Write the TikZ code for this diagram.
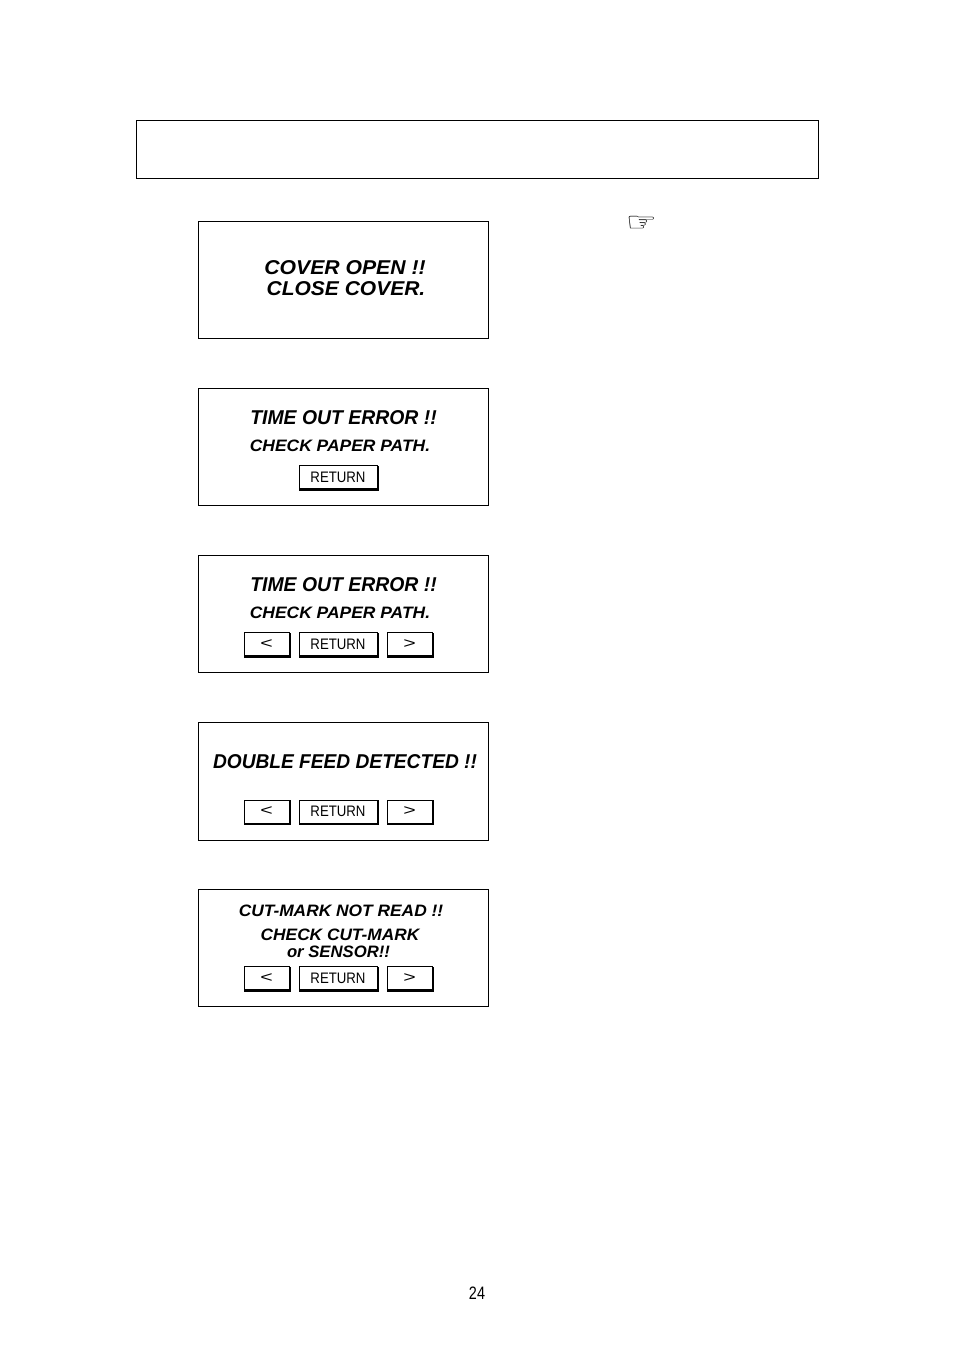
\documentclass[tikz,border=0pt]{standalone}
\usepackage{fontspec}
\setmainfont{Liberation Sans}
\newfontfamily\handfont{DejaVu Sans}
\newcommand{\sz}[1]{\fontsize{#1}{#1}\selectfont}
\tikzset{
  x=0.75pt,y=-0.75pt,
  panel/.style={draw=black,line width=0.8pt,minimum width=290.5*0.75pt,minimum height=117.5*0.75pt,inner sep=0pt},
  banner/.style={draw=black,line width=0.8pt,minimum width=682.5*0.75pt,minimum height=58*0.75pt,inner sep=0pt},
  msg/.style={font=\bfseries\itshape\sz{15},inner sep=0pt,anchor=center},
  submsg/.style={font=\bfseries\itshape\sz{12.4},inner sep=0pt,anchor=center},
  btn/.style={draw=black,line width=0.7pt,fill=white,minimum height=23*0.75pt,inner sep=0pt,font=\sz{11.4}},
  shade/.style={line width=0.9pt,line cap=rect},
}
\newcommand{\button}[5]{% name, centre x, centre y, width, label
  \node[btn,minimum width=#4*0.75pt] (#1) at (#2,#3) {#5};
  \draw[shade] ([xshift=1pt,yshift=-0.7pt]#1.south west) -- ([xshift=0.7pt,yshift=-0.7pt]#1.south east) -- ([xshift=0.7pt,yshift=-1pt]#1.north east);
}
\newcommand{\retlabel}{\scalebox{0.87}[1]{RETURN}}
\newcommand{\ltlabel}{\scalebox{1.4}[1]{<}}
\newcommand{\gtlabel}{\scalebox{1.4}[1]{>}}
\begin{document}
\begin{tikzpicture}
\useasboundingbox (0,0) rectangle (954,1350);
\fill[white] (0,0) rectangle (954,1350);

\node[banner] (top) at (477.5,149.5) {};
\node[inner sep=0pt,font=\handfont\sz{20}] (hand) at (641.5,224) {\scalebox{1.3}[1]{☞}};

% panel 1
\node[panel] (p1) at (343.5,280) {};
\node[msg] (t1a) at (345,268) {\scalebox{1.06}[1]{COVER OPEN !!}};
\node[msg] (t1b) at (346,289) {\scalebox{1.05}[1]{CLOSE COVER.}};

% panel 2
\node[panel] (p2) at (343.5,447) {};
\node[msg] (t2a) at (343.5,418) {\scalebox{0.97}[1]{TIME OUT ERROR !!}};
\node[submsg] (t2b) at (340,446) {\scalebox{1.055}[1]{CHECK PAPER PATH.}};
\button{b2}{338}{477}{78}{\retlabel}

% panel 3
\node[panel] (p3) at (343.5,614) {};
\node[msg] (t3a) at (343.5,585) {\scalebox{0.97}[1]{TIME OUT ERROR !!}};
\node[submsg] (t3b) at (340,613) {\scalebox{1.055}[1]{CHECK PAPER PATH.}};
\button{b3l}{266.5}{644}{45}{\ltlabel}
\button{b3m}{338}{644}{78}{\retlabel}
\button{b3r}{409.5}{644}{45}{\gtlabel}

% panel 4
\node[panel] (p4) at (343.5,781.5) {};
\node[msg] (t4a) at (345,762) {\scalebox{0.958}[1]{DOUBLE FEED DETECTED !!}};
\button{b4l}{266.5}{811.5}{45}{\ltlabel}
\button{b4m}{338}{811.5}{78}{\retlabel}
\button{b4r}{409.5}{811.5}{45}{\gtlabel}

% panel 5
\node[panel] (p5) at (343.5,948) {};
\node[submsg] (t5a) at (341,911) {\scalebox{1.05}[1]{CUT-MARK NOT READ !!}};
\node[submsg] (t5b) at (340,935) {\scalebox{1.046}[1]{CHECK CUT-MARK}};
\node[submsg] (t5c) at (338.5,952) {\scalebox{1.01}[1]{or SENSOR!!}};
\button{b5l}{266.5}{978}{45}{\ltlabel}
\button{b5m}{338}{978}{78}{\retlabel}
\button{b5r}{409.5}{978}{45}{\gtlabel}

\node[inner sep=0pt,font=\sz{13.5}] (page) at (477,1293) {\scalebox{0.8}[1]{24}};
\end{tikzpicture}
\end{document}
